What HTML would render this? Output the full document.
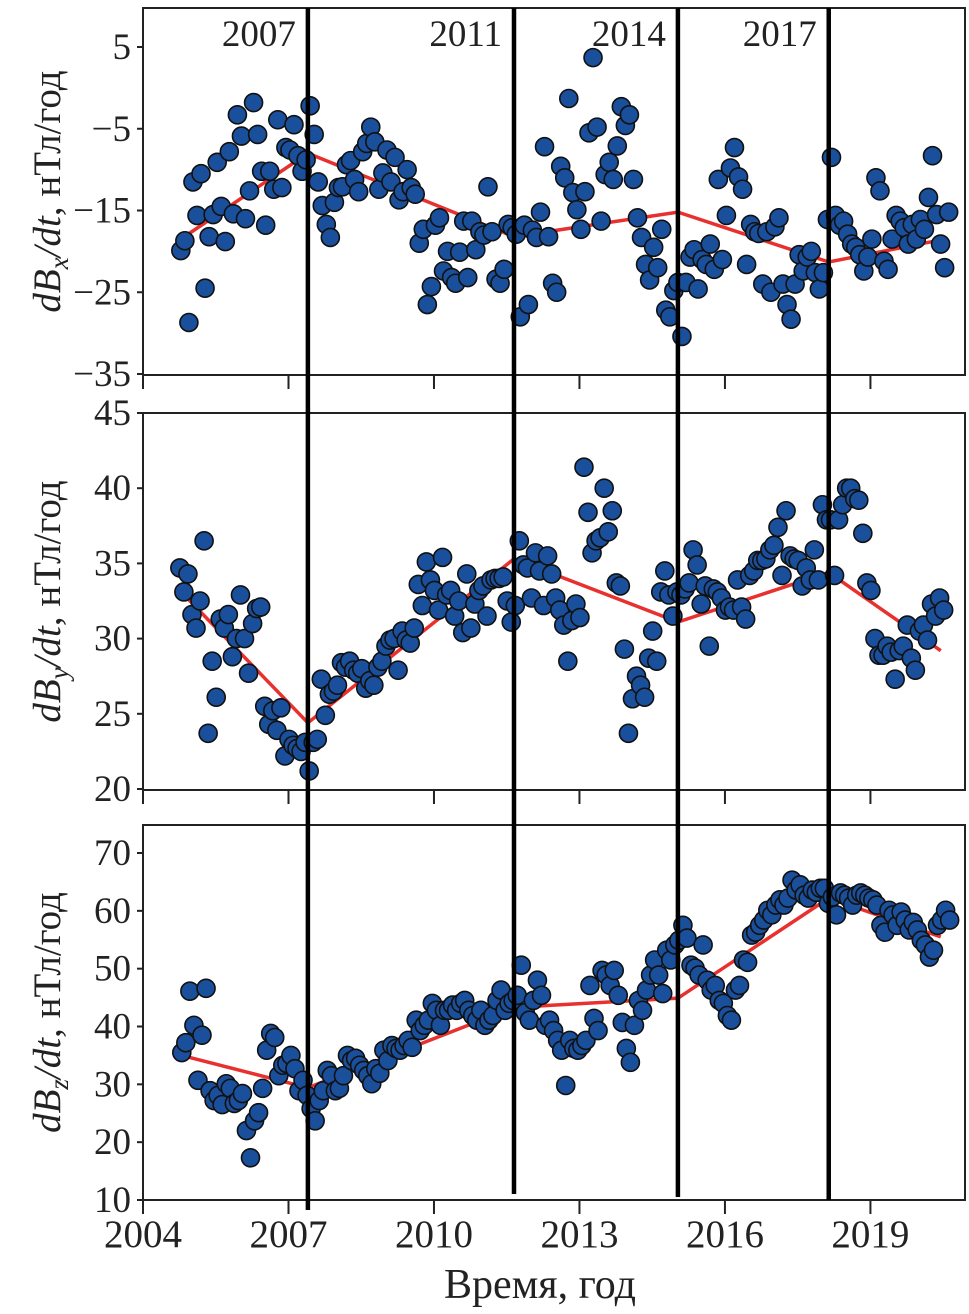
<!DOCTYPE html>
<html><head><meta charset="utf-8"><style>
html,body{margin:0;padding:0;background:#fff}
svg{display:block}
text{font-family:"Liberation Serif",serif;fill:#222}
</style></head><body>
<svg id="chart" width="969" height="1314" viewBox="0 0 969 1314" xmlns="http://www.w3.org/2000/svg"></svg>
<script>
const xTicks=[2004,2007,2010,2013,2016,2019];
const eventYears=[2007.4,2011.65,2015.03,2018.14];
const eventLabels=["2007","2011","2014","2017"];
const startBx=2004.78, startBy=2004.76, startBz=2004.80;
const bxValues=[-19.9,-18.7,-28.7,-11.5,-15.6,-10.5,-24.5,-18.2,-15.5,-9.1,-14.5,-18.8,-7.8,-15.4,-3.3,-5.9,-16.0,-12.6,-1.8,-5.7,-10.2,-16.8,-10.2,-12.4,-3.9,-12.2,-7.3,-7.6,-4.5,-8.3,-10.2,-8.8,-2.2,-5.7,-11.5,-14.4,-16.7,-18.3,-14.0,-12.2,-12.1,-9.4,-8.9,-11.2,-12.7,-7.8,-6.8,-4.8,-6.6,-12.4,-10.4,-7.6,-11.5,-8.5,-13.7,-12.7,-10.0,-12.2,-13.0,-19.0,-17.3,-26.5,-24.3,-16.8,-15.9,-22.4,-20.0,-23.2,-23.9,-20.1,-16.3,-23.2,-16.3,-19.8,-17.6,-18.0,-12.1,-17.6,-23.4,-23.9,-22.2,-16.7,-17.1,-17.9,-28.0,-16.8,-26.5,-17.4,-18.3,-15.2,-7.2,-18.2,-23.9,-25.0,-9.6,-11.0,-1.3,-12.8,-14.9,-17.3,-12.7,-5.5,3.7,-4.8,-16.3,-10.6,-9.1,-11.2,-7.1,-2.3,-4.6,-3.3,-11.2,-15.9,-18.3,-21.6,-23.5,-19.5,-22.0,-17.3,-27.2,-28.0,-24.8,-23.8,-30.4,-23.8,-20.7,-19.8,-24.6,-21.0,-21.6,-19.1,-22.2,-11.2,-21.0,-15.6,-9.8,-7.3,-10.9,-12.4,-21.6,-16.7,-17.6,-17.8,-24.0,-17.6,-25.0,-17.0,-15.9,-24.0,-26.5,-28.3,-24.0,-20.4,-22.4,-20.7,-20.0,-22.6,-24.6,-22.6,-16.1,-8.5,-15.6,-16.8,-16.3,-17.9,-19.1,-19.5,-20.4,-22.4,-20.7,-18.5,-11.0,-12.6,-21.2,-22.2,-18.5,-15.6,-16.3,-17.1,-19.1,-16.7,-18.5,-16.1,-17.3,-13.4,-8.3,-15.5,-19.1,-22.0,-15.2];
const byValues=[34.7,33.1,34.3,31.6,30.7,32.5,36.5,23.7,28.5,26.1,31.3,30.7,31.6,28.8,30.0,32.9,30.0,27.7,31.0,32.0,32.1,25.5,24.3,25.2,23.9,25.4,22.2,23.3,22.9,22.7,22.5,23.1,21.2,23.1,23.3,27.3,24.9,26.3,26.5,26.9,28.4,28.1,28.5,27.9,27.7,28.0,26.7,27.2,26.9,28.1,28.5,29.5,29.9,30.0,27.9,30.5,29.9,29.7,30.7,33.6,32.2,35.1,33.9,33.2,31.9,35.4,32.9,33.2,31.5,32.5,30.4,34.3,30.7,32.3,33.2,33.5,31.5,33.9,34.0,34.0,34.1,32.5,31.1,32.2,36.5,34.9,34.7,32.7,35.7,34.5,32.2,35.5,34.3,32.7,31.9,30.9,28.5,31.2,32.3,31.4,41.4,38.4,35.7,36.5,36.7,40.0,37.1,38.5,33.7,33.5,29.3,23.7,26.0,27.5,26.9,26.1,28.7,30.5,28.5,33.1,34.5,32.9,31.5,33.1,32.9,33.3,33.7,35.9,34.9,32.3,33.5,29.5,33.3,33.1,32.7,31.9,32.1,31.9,33.9,32.1,31.3,34.2,34.5,35.2,35.2,35.3,35.9,36.2,37.4,34.2,38.5,35.5,35.3,35.2,33.5,34.7,33.9,35.9,33.9,38.9,37.9,37.9,34.2,37.9,38.9,40.0,40.0,39.3,39.2,37.0,33.7,33.2,30.0,28.9,28.9,29.5,29.1,27.3,29.2,29.5,30.9,28.7,27.9,30.5,30.9,29.9,32.3,31.5,32.7,31.9];
const bzValues=[35.5,37.2,46.1,40.2,30.7,38.5,46.6,28.9,27.2,28.1,26.5,30.1,29.3,26.7,27.2,28.4,22.0,17.3,23.7,25.1,29.3,35.9,38.8,38.1,31.5,33.3,33.6,35.0,32.7,28.9,30.7,28.1,25.8,23.7,27.2,28.9,32.4,31.5,28.9,29.3,31.5,35.0,34.1,34.5,33.3,32.4,31.5,30.1,32.7,31.9,35.9,34.1,36.7,36.2,35.9,36.7,37.6,36.4,41.1,39.3,40.2,41.1,44.0,42.8,40.2,42.8,42.8,43.7,42.8,44.0,44.5,42.8,41.9,41.1,42.8,40.2,41.1,41.9,44.5,46.3,42.8,44.0,44.5,45.4,50.6,42.4,41.1,44.5,48.0,45.4,40.2,41.1,39.3,37.6,35.9,29.8,37.6,36.2,35.9,36.7,37.6,47.1,41.4,39.3,49.7,48.9,47.1,49.7,45.4,40.7,36.2,33.8,40.2,44.5,42.8,46.3,48.9,51.5,48.9,45.7,53.2,51.5,54.1,54.9,57.5,55.3,50.6,50.1,48.9,54.1,48.0,46.3,47.1,44.5,44.0,41.9,41.1,46.3,47.1,51.5,51.1,55.8,56.3,57.5,58.4,60.1,59.3,61.0,61.9,61.0,62.2,65.3,63.6,64.5,62.7,62.2,63.6,63.2,63.9,63.9,61.3,62.4,59.3,63.1,62.7,62.2,61.0,62.7,63.1,62.7,62.2,61.9,61.0,57.5,56.3,60.1,59.3,57.5,59.8,58.4,56.7,58.0,56.7,54.9,54.1,52.0,53.2,57.5,58.4,60.1,58.4];
const bxTrendX=[2004.78,2007.4,2011.65,2015.03,2018.14,2020.45];
const bxTrendY=[-18.5,-8.0,-18.2,-15.2,-21.3,-18.6];
const byTrendX=[2004.76,2007.4,2011.65,2015.03,2018.14,2020.45];
const byTrendY=[33.2,24.4,35.3,31.1,34.4,29.2];
const bzTrendX=[2004.8,2007.4,2011.65,2015.03,2018.14,2020.45];
const bzTrendY=[35.0,29.4,43.3,44.9,62.2,55.5];
const bxTicks=[5,-5,-15,-25,-35];
const byTicks=[45,40,35,30,25,20];
const bzTicks=[70,60,50,40,30,20,10];

const NS="http://www.w3.org/2000/svg";
const svg=document.getElementById('chart');
const X0=143,X1=965;
const xs=y=>X0+(y-2004)*(X1-X0)/(2020.95-2004);
function mk(tag,attrs,parent){const e=document.createElementNS(NS,tag);for(const k in attrs)e.setAttribute(k,attrs[k]);(parent||svg).appendChild(e);return e;}

const panels=[
 {key:'bx',sub:'x',top:8,bot:375,vTop:5,vTopY:47,vBot:-35,vBotY:374,vals:bxValues,start:startBx,tx:bxTrendX,ty:bxTrendY,ticks:bxTicks},
 {key:'by',sub:'y',top:413,bot:790,vTop:45,vTopY:413,vBot:20,vBotY:789,vals:byValues,start:startBy,tx:byTrendX,ty:byTrendY,ticks:byTicks},
 {key:'bz',sub:'z',top:825,bot:1200,vTop:70,vTopY:853,vBot:10,vBotY:1200,vals:bzValues,start:startBz,tx:bzTrendX,ty:bzTrendY,ticks:bzTicks}
];
panels.forEach((p,pi)=>{
  const ys=v=>p.vTopY+(p.vTop-v)*(p.vBotY-p.vTopY)/(p.vTop-p.vBot);
  const g=mk('g',{});
  
  
  const fr=mk('rect',{x:X0,y:p.top,width:X1-X0,height:p.bot-p.top,fill:'none',stroke:'#222','stroke-width':2},g);
  
  
  p.ticks.forEach(t=>{
    const y=ys(t);
    const tl=mk('line',{x1:X0-6,x2:X0,y1:y,y2:y,stroke:'#222','stroke-width':2},g);
    
    
    const tt=mk('text',{x:X0-12,y:y+12,'text-anchor':'end','font-size':37},g);
    tt.textContent=t<0?'\u2212'+Math.abs(t):String(t);
    
    
  });
  xTicks.forEach(t=>{
    const x=xs(t);
    const tl=mk('line',{x1:x,x2:x,y1:p.bot,y2:p.bot+14,stroke:'#222','stroke-width':2},g);
    
    
    if(pi===2){
      const tt=mk('text',{x:x,y:1247,'text-anchor':'middle','font-size':39},g);
      tt.textContent=String(t);
      
      
    }
  });
  const cy=(p.top+p.bot)/2;
  const lab=mk('text',{transform:`translate(60,${cy}) rotate(-90)`,'text-anchor':'middle','font-size':39},g);
  
  
  lab.innerHTML=`<tspan font-style="italic">dB</tspan><tspan font-style="italic" font-size="27" dy="8">${p.sub}</tspan><tspan dy="-8" font-style="italic">/dt</tspan><tspan>, нТл/год</tspan>`;
  const pts=p.tx.map((x,i)=>xs(x)+','+ys(p.ty[i])).join(' ');
  const tr=mk('polyline',{points:pts,fill:'none',stroke:'#e8312f','stroke-width':3.5},g);
  
  
  p.vals.forEach((v,i)=>{
    const c=mk('circle',{cx:xs(p.start+i/12),cy:ys(v),r:9,fill:'#1a4f9c',stroke:'#111','stroke-width':1.6},g);
    
    
  });
});
const ends=[1210,1194,1197,1200];
eventYears.forEach((e,i)=>{
  const x=xs(e);
  const l=mk('line',{x1:x,x2:x,y1:8,y2:ends[i],stroke:'#000','stroke-width':4.5});
  
  
  const t=mk('text',{x:x-12,y:46,'text-anchor':'end','font-size':37});
  t.textContent=eventLabels[i];
  
  
});
const xt=mk('text',{x:540,y:1298,'text-anchor':'middle','font-size':42});
xt.textContent='Время, год';


</script>
</body></html>
